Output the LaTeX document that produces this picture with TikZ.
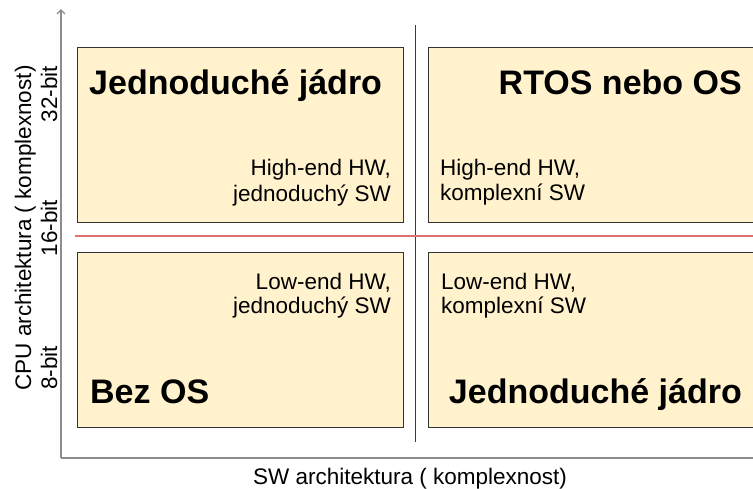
\documentclass[tikz,border=0pt]{standalone}
\usepackage{fontspec}
\setmainfont{Liberation Sans}
\usetikzlibrary{arrows.meta}
\definecolor{boxfill}{HTML}{FFF2CC}
\definecolor{boxline}{HTML}{333333}
\definecolor{axisgray}{HTML}{8C8C8C}
\definecolor{vred}{HTML}{C00000}
\definecolor{hred}{HTML}{E07070}
\tikzset{
  quad/.style={draw=boxline, line width=0.9pt, fill=boxfill, anchor=north west, inner sep=0pt, minimum width=#1, minimum height=175pt},
  big/.style={font=\fontsize{34}{40}\selectfont\bfseries, inner sep=0pt},
  small/.style={font=\fontsize{22.5}{26}\selectfont, inner sep=0pt},
  axisline/.style={draw=axisgray, line width=1.3pt},
}
\begin{document}
\begin{tikzpicture}[x=1pt, y=-1pt]
\useasboundingbox (0,0) rectangle (753,488);
% boxes
\node[quad=326pt] (tl) at (77,47) {};
\node[quad=340pt] (tr) at (428,47) {};
\node[quad=326pt] (bl) at (77,252) {};
\node[quad=340pt] (br) at (428,252) {};
% separator lines
\coordinate (vtop) at (415,25);
\coordinate (vbot) at (415,442);
\coordinate (hleft) at (75,236);
\coordinate (hright) at (753,236);
\draw[vred, line width=0.8pt] (vtop) -- (vbot);
\draw[hred, line width=1.2pt] (hleft) -- (hright);
% axes
\coordinate (o) at (61,458);
\coordinate (ytop) at (61,9);
\coordinate (xend) at (753,458);
\draw[axisline, -{Straight Barb[length=4pt,width=8pt]}] (o) -- (ytop);
\draw[axisline] (o) -- (xend);
% big labels
\node[big, anchor=base west] (t1) at (89,94) {Jednoduché jádro};
\node[big, anchor=base east] (t2) at (742,94) {RTOS nebo OS};
\node[big, anchor=base west] (t3) at (90,403) {Bez OS};
\node[big, anchor=base east] (t4) at (742,403) {Jednoduché jádro};
% small labels
\node[small, anchor=base east] (a1) at (391,175) {High-end HW,};
\node[small, anchor=base east] (a2) at (391,201) {jednoduchý SW};
\node[small, anchor=base west] (b1) at (440,175) {High-end HW,};
\node[small, anchor=base west] (b2) at (440,200) {komplexní SW};
\node[small, anchor=base east] (c1) at (391,289) {Low-end HW,};
\node[small, anchor=base east] (c2) at (391,313) {jednoduchý SW};
\node[small, anchor=base west] (d1) at (441,289) {Low-end HW,};
\node[small, anchor=base west] (d2) at (441,313) {komplexní SW};
% axis labels
\node[small, rotate=90, anchor=base] (y32) at (57,94) {32-bit};
\node[small, rotate=90, anchor=base] (y16) at (57,228) {16-bit};
\node[small, rotate=90, anchor=base] (y8) at (57,368) {8-bit};
\node[small, rotate=90, anchor=base] (ylab) at (31,228) {CPU architektura ( komplexnost)};
\node[small, anchor=base] (xlab) at (410,484) {SW architektura ( komplexnost)};
\end{tikzpicture}
\end{document}
